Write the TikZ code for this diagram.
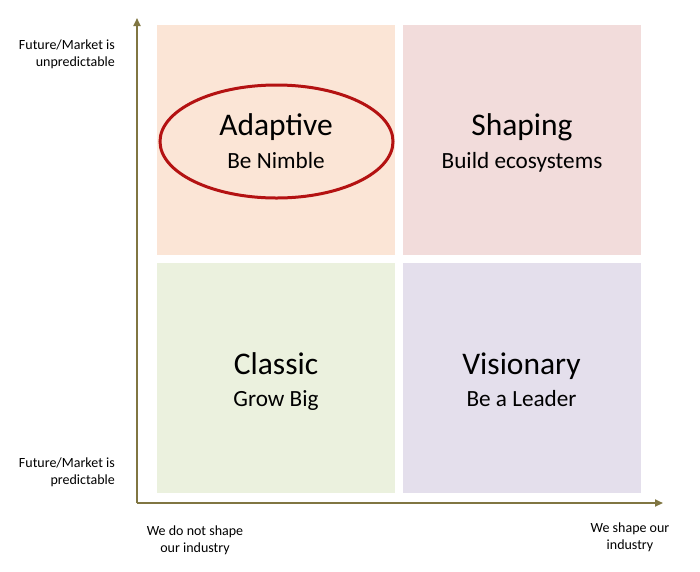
\documentclass[tikz,border=0pt]{standalone}
\usepackage{fontspec}
\setmainfont{Carlito}
\usetikzlibrary{shapes.geometric,arrows.meta}
\definecolor{peach}{RGB}{251,229,214}
\definecolor{rose}{RGB}{242,220,219}
\definecolor{sage}{RGB}{235,241,222}
\definecolor{lilac}{RGB}{228,223,236}
\definecolor{olive}{RGB}{128,118,66}
\definecolor{ringred}{RGB}{180,18,18}
\begin{document}
\begin{tikzpicture}[x=1pt,y=-1pt,
  quad/.style={minimum width=238pt,minimum height=230pt,inner sep=0pt},
  title/.style={anchor=base,font=\fontsize{31.5}{34}\selectfont},
  subtitle/.style={anchor=base,font=\fontsize{23.2}{26}\selectfont},
  axislabel/.style={font=\fontsize{14}{17}\selectfont,inner sep=0pt}]
\useasboundingbox (0,0) rectangle (700,571);
% quadrants
\node[quad,fill=peach] (adaptive) at (276,140) {};
\node[quad,fill=rose] (shaping) at (522,140) {};
\node[quad,fill=sage] (classic) at (276,377.5) {};
\node[quad,fill=lilac] (visionary) at (521.5,377.5) {};
\node[title] (adaptiveT) at ([yshift=5pt]adaptive.center) {Adaptive};
\node[subtitle] (adaptiveS) at ([yshift=-28pt]adaptive.center) {Be Nimble};
\node[title] (shapingT) at ([yshift=5pt]shaping.center) {Shaping};
\node[subtitle] (shapingS) at ([yshift=-28pt]shaping.center) {Build ecosystems};
\node[title] (classicT) at ([yshift=3.5pt]classic.center) {Classic};
\node[subtitle] (classicS) at ([yshift=-28.5pt]classic.center) {Grow Big};
\node[title] (visionaryT) at ([yshift=3.5pt]visionary.center) {Visionary};
\node[subtitle] (visionaryS) at ([yshift=-28.5pt]visionary.center) {Be a Leader};
% highlight
\node[ellipse,draw=ringred,line width=3pt,minimum width=233pt,minimum height=113pt] (ring) at (276.5,141.5) {};
% axes
\coordinate (origin) at (137,503);
\coordinate (ytip) at (137,18);
\coordinate (xtip) at (663,503);
\draw[olive,line width=1.8pt,-{Triangle[length=8pt,width=7pt]}] (origin) -- (ytip);
\draw[olive,line width=1.8pt,-{Triangle[length=8pt,width=7pt]}] (origin) -- (xtip);
\node[axislabel,align=right,anchor=east] (unpred) at (115,54) {Future/Market is\\unpredictable};
\node[axislabel,align=right,anchor=east] (pred) at (115,472) {Future/Market is\\predictable};
\node[axislabel,align=center] (noshape) at (195,540) {We do not shape\\our industry};
\node[axislabel,align=center] (shape) at (630,537.5) {We shape our\\industry};
\end{tikzpicture}
\end{document}
